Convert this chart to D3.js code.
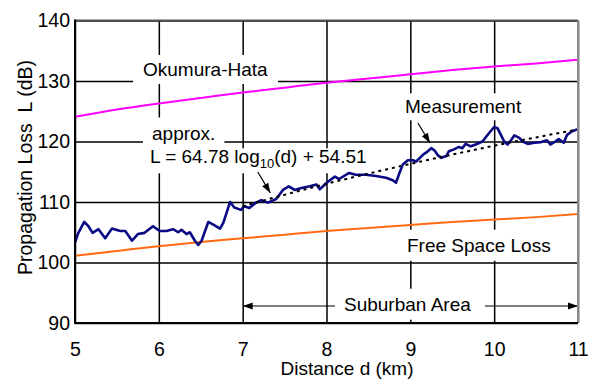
<!DOCTYPE html>
<html>
<head>
<meta charset="utf-8">
<script src="https://cdn.jsdelivr.net/npm/d3@7"></script>
<style>
  body { margin: 0; background: #fff; }
  text { font-family: Arial, "Liberation Sans", sans-serif; fill: #000; }
</style>
</head>
<body>
<svg id="chart" width="598" height="387"></svg>
<script>
// distance ticks (km) and loss ticks (dB)
var xTicks = [5, 6, 7, 8, 9, 10, 11]
var yTicks = [90, 100, 110, 120, 130, 140]

// model curves
var modelDist = [5, 5.5, 6, 6.5, 7, 7.5, 8, 8.5, 9, 9.5, 10, 10.5, 11]
var hataLoss = [124.1, 125.3, 126.3, 127.2, 128.1, 128.9, 129.7, 130.4, 131.1, 131.8, 132.4, 132.9, 133.5]
var freeLoss = [101.1, 101.9, 102.7, 103.4, 104.0, 104.6, 105.2, 105.7, 106.2, 106.7, 107.1, 107.5, 108.0]

// fitted line L = 64.78 log10(d) + 54.51, read at each km
var fitDist = [7, 8, 9, 10, 11]
var fitLoss = [109.3, 113.0, 116.3, 119.3, 122.0]

// measurement trace
var measDist = [5.00, 5.04, 5.11, 5.16, 5.21, 5.28, 5.36, 5.44, 5.54, 5.60, 5.68, 5.75, 5.83, 5.93,
  6.01, 6.09, 6.17, 6.23, 6.27, 6.33, 6.37, 6.43, 6.47, 6.51, 6.59, 6.67, 6.73, 6.77, 6.85, 6.90,
  6.98, 7.02, 7.08, 7.16, 7.22, 7.30, 7.40, 7.48, 7.55, 7.62, 7.70, 7.80, 7.88, 7.92, 8.02, 8.10,
  8.15, 8.27, 8.35, 8.47, 8.59, 8.71, 8.79, 8.83, 8.87, 8.91, 8.97, 9.03, 9.07, 9.15, 9.19, 9.25,
  9.29, 9.33, 9.37, 9.43, 9.46, 9.52, 9.58, 9.62, 9.66, 9.72, 9.78, 9.86, 9.94, 10.00, 10.04,
  10.08, 10.12, 10.16, 10.20, 10.24, 10.30, 10.34, 10.40, 10.48, 10.56, 10.63, 10.67, 10.73,
  10.77, 10.83, 10.87, 10.93, 10.99]
var measLoss = [103.3, 104.9, 106.7, 106.0, 104.9, 105.5, 104.0, 105.6, 105.2, 105.2, 103.6, 104.7, 104.9, 106.0,
  105.2, 105.2, 105.5, 105.0, 105.4, 104.7, 105.0, 103.6, 102.9, 103.6, 106.7, 106.1, 105.6, 106.6, 110.0, 109.1,
  108.7, 109.3, 109.0, 109.9, 110.3, 109.9, 110.5, 112.0, 112.6, 112.0, 112.3, 112.6, 112.9, 112.1, 113.4, 114.2,
  113.8, 114.8, 114.5, 114.5, 114.3, 114.0, 113.6, 113.2, 114.8, 116.2, 116.9, 116.9, 116.7, 117.8, 118.2, 118.9,
  118.5, 117.7, 117.3, 117.6, 118.4, 118.7, 119.1, 118.9, 119.6, 119.2, 119.5, 120.0, 121.4, 122.4, 122.2,
  121.1, 120.0, 119.5, 120.2, 121.0, 120.6, 120.0, 119.6, 119.8, 119.9, 120.2, 119.5, 120.0,
  120.4, 119.8, 121.1, 121.7, 122.0]

var svg = d3.select('#chart')
var plotLeft = 75, plotRight = 578, plotTop = 20.5, plotBottom = 323

var x = d3.scaleLinear().domain([5, 11]).range([plotLeft, plotRight])
var y = d3.scaleLinear().domain([90, 140]).range([plotBottom, plotTop])

// grid
svg.append('g')
    .attr('transform', `translate(0, ${plotBottom})`)
    .call(d3.axisBottom(x).tickValues(xTicks).tickSize(-(plotBottom - plotTop)).tickFormat(''))
    .call(g => g.select('.domain').remove())
    .call(g => g.selectAll('line').attr('stroke', '#000').attr('stroke-width', 1.5))
svg.append('g')
    .attr('transform', `translate(${plotLeft}, 0)`)
    .call(d3.axisLeft(y).tickValues(yTicks).tickSize(-(plotRight - plotLeft)).tickFormat(''))
    .call(g => g.select('.domain').remove())
    .call(g => g.selectAll('line').attr('stroke', '#000').attr('stroke-width', 1.5))

// tick labels
svg.append('g')
    .attr('transform', `translate(0, ${plotBottom})`)
    .call(d3.axisBottom(x).tickValues(xTicks).tickSize(0).tickPadding(19).tickFormat(d3.format('d')))
    .call(g => g.select('.domain').remove())
    .call(g => g.selectAll('text').attr('font-size', 19.5).attr('font-family', null))
svg.append('g')
    .attr('transform', `translate(${plotLeft}, 0)`)
    .call(d3.axisLeft(y).tickValues(yTicks).tickSize(0).tickPadding(5).tickFormat(d3.format('d')))
    .call(g => g.select('.domain').remove())
    .call(g => g.selectAll('text').attr('font-size', 19.5).attr('font-family', null))

// axis titles
svg.append('text')
    .attr('x', 347).attr('y', 375)
    .attr('text-anchor', 'middle')
    .attr('font-size', 19)
    .text('Distance d (km)')
svg.append('text')
    .attr('transform', 'translate(32, 167.5) rotate(-90)')
    .attr('text-anchor', 'middle')
    .attr('font-size', 19.5)
    .style('white-space', 'pre')
    .text('Propagation Loss  L (dB)')

var boxes = svg.append('g')
var lines = svg.append('g')
var labels = svg.append('g')

var line = d3.line()
    .x(d => x(d[0]))
    .y(d => y(d[1]))

lines.append('path')
    .datum(d3.zip(modelDist, hataLoss))
    .attr('d', line.curve(d3.curveMonotoneX))
    .attr('fill', 'none')
    .attr('stroke', '#ff00ff')
    .attr('stroke-width', 2)
lines.append('path')
    .datum(d3.zip(modelDist, freeLoss))
    .attr('d', line.curve(d3.curveMonotoneX))
    .attr('fill', 'none')
    .attr('stroke', '#ff6a10')
    .attr('stroke-width', 2)
lines.append('path')
    .datum(d3.zip(measDist, measLoss))
    .attr('d', line.curve(d3.curveLinear))
    .attr('fill', 'none')
    .attr('stroke', '#0a0a84')
    .attr('stroke-width', 2.6)
    .attr('stroke-linejoin', 'round')
lines.append('path')
    .datum(d3.zip(fitDist, fitLoss))
    .attr('d', line.curve(d3.curveMonotoneX))
    .attr('fill', 'none')
    .attr('stroke', '#000')
    .attr('stroke-width', 2)
    .attr('stroke-dasharray', '3,4')

// labels with white boxes that cut the grid
function label(txt, lx, ly, padX, padTop, padBottom) {
    var t = labels.append('text')
        .attr('x', lx).attr('y', ly)
        .attr('font-size', 19)
    if (typeof txt == 'function') txt(t)
    else t.text(txt)
    var b = t.node().getBBox()
    boxes.append('rect')
        .attr('x', b.x - padX).attr('y', b.y - padTop)
        .attr('width', b.width + 2 * padX).attr('height', b.height + padTop + padBottom)
        .attr('fill', '#fff')
    return t
}

label('Okumura-Hata', 143, 76, 10, 4, 4)
label('approx.', 152, 139.5, 9, 5, 5)
label(function (t) {
    t.append('tspan').text('L = 64.78 log')
    t.append('tspan').attr('font-size', 13).attr('dy', 5).text('10')
    t.append('tspan').attr('dy', -5).text('(d) + 54.51')
}, 150, 163.3, 6, -2, 2)
label('Measurement', 405, 113.3, 7, 3, 3)
label('Free Space Loss', 407, 251.7, 8, 5, 5)
label('Suburban Area', 344, 310.7, 9, 5, 5)

// arrows
svg.append('defs').append('marker')
    .attr('id', 'head')
    .attr('viewBox', '0 0 10 10')
    .attr('refX', 10).attr('refY', 5)
    .attr('markerWidth', 10).attr('markerHeight', 10)
    .attr('markerUnits', 'userSpaceOnUse')
    .attr('orient', 'auto-start-reverse')
    .append('path')
    .attr('d', 'M0,1.5 L10,5 L0,8.5 Z')
    .attr('fill', '#000')

var arrows = svg.append('g')
    .attr('stroke', '#000')
    .attr('stroke-width', 1.2)
arrows.append('line')
    .attr('x1', x(7.18)).attr('y1', y(114.96))
    .attr('x2', x(7.33)).attr('y2', y(111.5))
    .attr('marker-end', 'url(#head)')
arrows.append('line')
    .attr('x1', x(9.09)).attr('y1', y(123.06))
    .attr('x2', x(9.235)).attr('y2', y(119.75))
    .attr('marker-end', 'url(#head)')
arrows.append('line')
    .attr('x1', x(7)).attr('y1', 306)
    .attr('x2', 335).attr('y2', 306)
    .attr('marker-start', 'url(#head)')
arrows.append('line')
    .attr('x1', 485).attr('y1', 306)
    .attr('x2', x(11)).attr('y2', 306)
    .attr('marker-end', 'url(#head)')

// frame
svg.append('line')
    .attr('x1', plotLeft).attr('x2', plotRight).attr('y1', plotTop).attr('y2', plotTop)
    .attr('stroke', '#555').attr('stroke-width', 2)
svg.append('line')
    .attr('x1', plotRight).attr('x2', plotRight).attr('y1', plotTop).attr('y2', plotBottom)
    .attr('stroke', '#888').attr('stroke-width', 2)
svg.append('line')
    .attr('x1', plotLeft).attr('x2', plotLeft).attr('y1', plotTop - 1).attr('y2', plotBottom + 1)
    .attr('stroke', '#000').attr('stroke-width', 2)
svg.append('line')
    .attr('x1', plotLeft - 1).attr('x2', plotRight).attr('y1', plotBottom).attr('y2', plotBottom)
    .attr('stroke', '#000').attr('stroke-width', 2)
</script>
</body>
</html>
